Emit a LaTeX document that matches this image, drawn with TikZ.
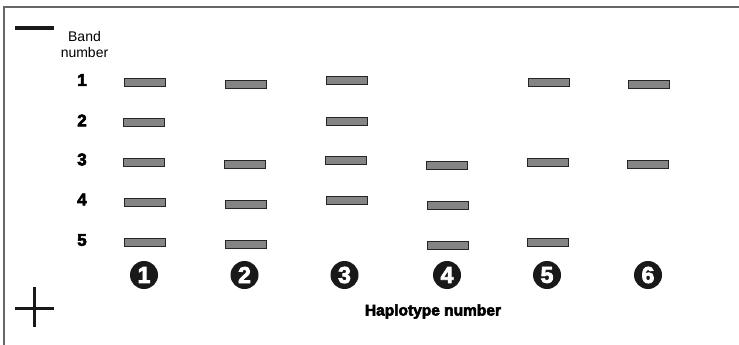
\documentclass[tikz,border=0pt]{standalone}
\usepackage{fontspec}
\setmainfont{Liberation Sans}
\newfontfamily\heavy[FakeBold=3.5]{Liberation Sans Bold}
\begin{document}
\begin{tikzpicture}[x=1pt,y=-1pt,
  band/.style={draw=black!85,line width=1pt,fill=black!48,
    minimum width=41pt,minimum height=8pt,inner sep=0pt,rectangle},
  rowlabel/.style={font=\heavy\fontsize{17}{17}\selectfont,inner sep=0pt},
  hapmark/.style={circle,fill=black!90,minimum size=28pt,inner sep=0pt,
    text=white,font=\heavy\fontsize{23}{23}\selectfont},
  frameline/.style={line width=1.4pt,draw=black!60},
  signline/.style={line width=3.4pt,draw=black!90}]
\useasboundingbox (0,0) rectangle (739,345);
% open frame: top and left edges only
\draw[frameline] (4,345) -- (4,7) -- (739,7);
% polarity marks
\draw[signline] (15,28) -- (54,28);
\draw[signline] (15,308.5) -- (54,308.5);
\draw[signline] (34.5,287) -- (34.5,327);
% column heading
\node[align=center,font=\fontsize{14}{15.5}\selectfont,inner sep=0pt] (hdr) at (84.5,44.5) {Band\\number};
% band numbers
\node[rowlabel] (r1) at (82,80) {1};
\node[rowlabel] (r2) at (82,120.5) {2};
\node[rowlabel] (r3) at (82,159.5) {3};
\node[rowlabel] (r4) at (82,199.5) {4};
\node[rowlabel] (r5) at (82,240) {5};
% haplotype 1
\node[band] (b11) at (144.7,82.5) {};
\node[band] (b12) at (144,122.5) {};
\node[band] (b13) at (144.2,162.5) {};
\node[band] (b14) at (145.3,202.5) {};
\node[band] (b15) at (145,242.5) {};
% haplotype 2
\node[band] (b21) at (245.8,84.5) {};
\node[band] (b23) at (245.4,164.5) {};
\node[band] (b24) at (246.3,204.5) {};
\node[band] (b25) at (245.5,244.3) {};
% haplotype 3
\node[band] (b31) at (347.2,80.5) {};
\node[band] (b32) at (346.5,121) {};
\node[band] (b33) at (346.4,160.5) {};
\node[band] (b34) at (347.3,200.7) {};
% haplotype 4
\node[band] (b43) at (447.2,165.3) {};
\node[band] (b44) at (448.2,205) {};
\node[band] (b45) at (447.5,245) {};
% haplotype 5
\node[band] (b51) at (548.8,82.5) {};
\node[band] (b53) at (547.8,162.5) {};
\node[band] (b55) at (548.2,242) {};
% haplotype 6
\node[band] (b61) at (649.2,84.7) {};
\node[band] (b63) at (648.3,164.5) {};
% haplotype numbers
\node[hapmark] (h1) at (144,275) {1};
\node[hapmark] (h2) at (244.5,275) {2};
\node[hapmark] (h3) at (344.5,275) {3};
\node[hapmark] (h4) at (447,275) {4};
\node[hapmark] (h5) at (547,275) {5};
\node[hapmark] (h6) at (648,275) {6};
\node[font=\heavy\fontsize{15.5}{16}\selectfont,inner sep=0pt] (hlab) at (433,311.5) {Haplotype number};
\end{tikzpicture}
\end{document}
